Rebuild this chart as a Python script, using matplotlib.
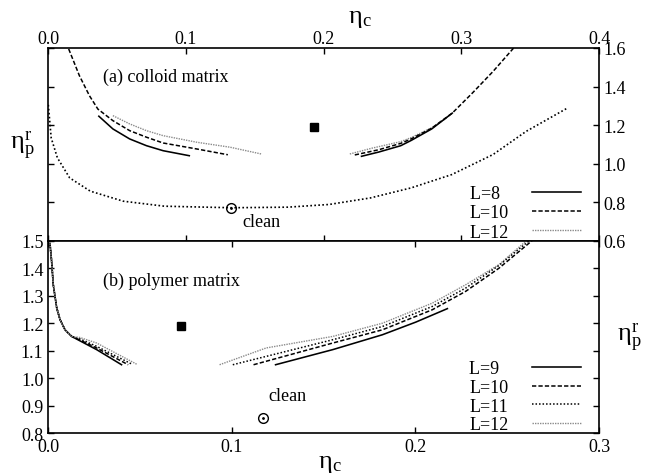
"""
Reentrant demixing lines for a colloid-polymer mixture in a porous matrix.
(a) colloid matrix, (b) polymer matrix, for several system sizes L.
"""

import numpy as np
import matplotlib
matplotlib.use('Agg')
import matplotlib.pyplot as plt

plt.rcParams['font.family'] = ['Liberation Serif', 'DejaVu Serif']
plt.rcParams['mathtext.fontset'] = 'custom'
plt.rcParams['mathtext.rm'] = 'Liberation Serif'
plt.rcParams['mathtext.it'] = 'Liberation Serif:italic'

# ---- (a) colloid matrix ----
a_l8_left_x = [0.0367, 0.0469, 0.0591, 0.0713, 0.0834, 0.1024]
a_l8_left_y = [1.246, 1.180, 1.128, 1.093, 1.067, 1.041]
a_l10_left_x = [0.0148, 0.0226, 0.0299, 0.0360, 0.0469, 0.0591, 0.0713, 0.0834, 0.1078, 0.1304]
a_l10_left_y = [1.595, 1.456, 1.352, 1.283, 1.223, 1.171, 1.137, 1.107, 1.076, 1.046]
a_l12_left_x = [0.0469, 0.0591, 0.0713, 0.0834, 0.1078, 0.1321, 0.1547]
a_l12_left_y = [1.249, 1.206, 1.171, 1.145, 1.111, 1.085, 1.050]

a_l8_right_x = [0.2275, 0.240, 0.256, 0.2635, 0.2785, 0.2934]
a_l8_right_y = [1.038, 1.060, 1.093, 1.120, 1.180, 1.262]
a_l10_right_x = [0.2226, 0.240, 0.256, 0.2635, 0.2785, 0.2934, 0.308, 0.323, 0.338]
a_l10_right_y = [1.045, 1.072, 1.105, 1.128, 1.184, 1.262, 1.366, 1.478, 1.600]
a_l12_right_x = [0.219, 0.235, 0.256, 0.2635, 0.2785, 0.290]
a_l12_right_y = [1.050, 1.080, 1.114, 1.135, 1.186, 1.240]

a_clean_x = [0.0, 0.0021, 0.0066, 0.0155, 0.0305, 0.0544, 0.0843, 0.133, 0.174,
             0.204, 0.234, 0.2635, 0.293, 0.323, 0.347, 0.377]
a_clean_y = [1.305, 1.133, 1.030, 0.926, 0.857, 0.805, 0.779, 0.771, 0.774,
             0.788, 0.822, 0.874, 0.943, 1.047, 1.167, 1.288]
a_clean_pt = (0.133, 0.771)
a_square = (0.193, 1.19)
a_labels = ['L=8\u2007', 'L=10', 'L=12']

# ---- (b) polymer matrix ----
b_common_x = [0.0009, 0.0018, 0.0027, 0.0046, 0.0064, 0.0091, 0.0127]
b_common_y = [1.490, 1.425, 1.340, 1.255, 1.213, 1.176, 1.152]
b_l9_left_x = b_common_x + [0.0172, 0.0263, 0.0399]
b_l9_left_y = b_common_y + [1.136, 1.104, 1.049]
b_l10_left_x = b_common_x + [0.0172, 0.0263, 0.0435]
b_l10_left_y = b_common_y + [1.139, 1.110, 1.049]
b_l11_left_x = b_common_x + [0.0172, 0.0263, 0.0459]
b_l11_left_y = b_common_y + [1.143, 1.116, 1.050]
b_l12_left_x = b_common_x + [0.0172, 0.0263, 0.0484]
b_l12_left_y = b_common_y + [1.148, 1.128, 1.050]

b_l9_right_x = [0.1238, 0.155, 0.182, 0.2002, 0.2174]
b_l9_right_y = [1.049, 1.104, 1.158, 1.204, 1.253]
b_l10_right_x = [0.1118, 0.155, 0.182, 0.2092, 0.2274, 0.2455, 0.2635]
b_l10_right_y = [1.049, 1.128, 1.176, 1.249, 1.316, 1.400, 1.500]
b_l11_right_x = [0.1005, 0.155, 0.182, 0.2092, 0.2274, 0.2455, 0.262]
b_l11_right_y = [1.049, 1.140, 1.188, 1.261, 1.328, 1.410, 1.500]
b_l12_right_x = [0.0933, 0.1187, 0.155, 0.182, 0.2092, 0.2274, 0.2455, 0.2605]
b_l12_right_y = [1.049, 1.110, 1.152, 1.200, 1.273, 1.340, 1.413, 1.500]

b_clean_pt = (0.117, 0.857)
b_square = (0.0725, 1.19)
b_labels = ['L=9\u2007', 'L=10', 'L=11', 'L=12']

# line styles
SOLID = dict(color='black', lw=1.15, ls='-')
DASH = dict(color='black', lw=1.1, ls=(0, (2.8, 1.4)))
DOT = dict(color='black', lw=1.1, ls=(0, (1, 1.3)))
FINE = dict(color='#8a8a8a', lw=1.0, ls=(0, (1, 0.8)))
CLEAN = dict(color='black', lw=1.2, ls=(0, (1, 1.4)))

FS = 13


def style_axis(ax):
    ax.tick_params(direction='in', length=4, width=1, labelsize=FS,
                   top=True, bottom=True, left=True, right=True)
    for sp in ax.spines.values():
        sp.set_linewidth(1.2)


def mark_clean(ax, pt):
    ax.plot([pt[0]], [pt[1]], 'o', mfc='none', mec='black', ms=7, mew=1)
    ax.plot([pt[0]], [pt[1]], 'o', color='black', ms=1.0)


def add_legend(ax, handles, labels, spacing):
    ax.legend(handles, labels, loc='lower right', bbox_to_anchor=(0.967, 0.0),
              frameon=False, fontsize=FS, markerfirst=False,
              handlelength=2.7, handletextpad=1.3, labelspacing=spacing,
              borderpad=0.0, borderaxespad=0.0)


fig = plt.figure(figsize=(6.45, 4.77), dpi=100)
L, R = 0.0749, 0.9287
ax_a = fig.add_axes([L, 0.4933, R - L, 0.8973 - 0.4933])
ax_b = fig.add_axes([L, 0.0897, R - L, 0.4933 - 0.0897])

# ---- panel (a) ----
ax = ax_a
ax.plot(a_clean_x, a_clean_y, **CLEAN)
l8, = ax.plot(a_l8_left_x, a_l8_left_y, **SOLID)
l10, = ax.plot(a_l10_left_x, a_l10_left_y, **DASH)
l12, = ax.plot(a_l12_left_x, a_l12_left_y, **FINE)
ax.plot(a_l12_right_x, a_l12_right_y, **FINE)
ax.plot(a_l10_right_x, a_l10_right_y, **DASH)
ax.plot(a_l8_right_x, a_l8_right_y, **SOLID)
mark_clean(ax, a_clean_pt)
ax.plot([a_square[0]], [a_square[1]], 's', color='black', ms=6)
ax.text(0.155, 0.70, 'clean', fontsize=FS, ha='center', va='center')
ax.text(0.0396, 1.453, '(a) colloid matrix', fontsize=FS, ha='left', va='center')

ax.set_xlim(0, 0.4)
ax.set_ylim(0.6, 1.6)
ax.set_xticks(np.arange(0, 0.41, 0.1))
ax.set_yticks(np.arange(0.6, 1.61, 0.2))
ax.xaxis.set_major_formatter(plt.FormatStrFormatter('%.1f'))
ax.yaxis.set_major_formatter(plt.FormatStrFormatter('%.1f'))
style_axis(ax)
ax.tick_params(labelbottom=False, labeltop=True, labelleft=False, labelright=True)
ax.tick_params(axis='x', pad=1.0)
ax.xaxis.set_label_position('top')
ax.set_xlabel(r'$\mathregular{\eta_c}$', fontsize=19, va='center')
ax.xaxis.set_label_coords(0.565, 1.155)
ax.set_ylabel(r'$\mathregular{\eta_p^r}$', fontsize=19, rotation=0,
              ha='center', va='center', labelpad=19)
add_legend(ax, [l8, l10, l12], a_labels, 0.13)

# ---- panel (b) ----
ax = ax_b
m9, = ax.plot(b_l9_left_x, b_l9_left_y, **SOLID)
m10, = ax.plot(b_l10_left_x, b_l10_left_y, **DASH)
m11, = ax.plot(b_l11_left_x, b_l11_left_y, **DOT)
m12, = ax.plot(b_l12_left_x, b_l12_left_y, **FINE)
ax.plot(b_l12_right_x, b_l12_right_y, **FINE)
ax.plot(b_l11_right_x, b_l11_right_y, **DOT)
ax.plot(b_l10_right_x, b_l10_right_y, **DASH)
ax.plot(b_l9_right_x, b_l9_right_y, **SOLID)
mark_clean(ax, b_clean_pt)
ax.plot([b_square[0]], [b_square[1]], 's', color='black', ms=6)
ax.text(0.130, 0.937, 'clean', fontsize=FS, ha='center', va='center')
ax.text(0.030, 1.356, '(b) polymer matrix', fontsize=FS, ha='left', va='center')

ax.set_xlim(0, 0.3)
ax.set_ylim(0.8, 1.5)
ax.set_xticks(np.arange(0, 0.31, 0.1))
ax.set_yticks(np.arange(0.8, 1.51, 0.1))
ax.xaxis.set_major_formatter(plt.FormatStrFormatter('%.1f'))
ax.yaxis.set_major_formatter(plt.FormatStrFormatter('%.1f'))
style_axis(ax)
ax.set_xlabel(r'$\mathregular{\eta_c}$', fontsize=19, labelpad=0)
ax.xaxis.set_label_coords(0.512, -0.10)
ax.yaxis.set_label_position('right')
ax.set_ylabel(r'$\mathregular{\eta_p^r}$', fontsize=19, rotation=0,
              ha='center', va='center', labelpad=22)
add_legend(ax, [m9, m10, m11, m12], b_labels, 0.09)

fig.savefig('out.png', dpi=100)
